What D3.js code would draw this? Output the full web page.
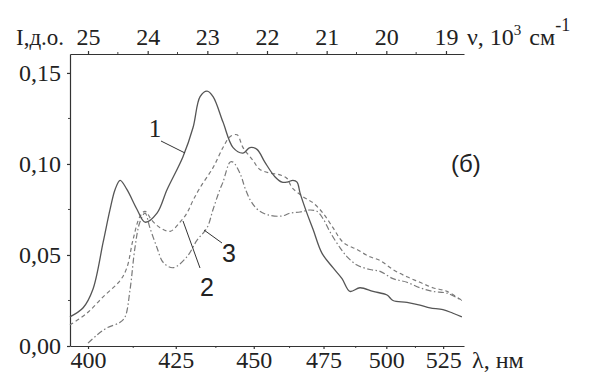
<!DOCTYPE html>
<html>
<head>
<meta charset="utf-8">
<script src="https://cdn.jsdelivr.net/npm/d3@7"></script>
<style>
  body { margin: 0; background: #fff; }
  svg text { fill: #222; }
  .axis path, .axis line { stroke: #333; stroke-width: 1.2; }
</style>
</head>
<body>
<svg id="chart" width="591" height="373"></svg>
<script>
// Luminescence spectra, (б)

// curve 1 (solid)
var lambda1 = [395.2, 398.7, 401.3, 404.1, 406.0, 407.4, 408.8, 410.7, 413.6, 415.9, 419.4, 422.4, 427.2,
  430.3, 432.5, 434.7, 436.6, 439.8, 443.1, 446.4, 448.7, 451.1, 453.8, 457.3, 459.8, 461.6, 463.7, 465.2,
  466.3, 468.8, 471.1, 474.4, 478.6, 482.1, 485.2, 489.2, 494.5, 500.3, 502.8, 508.8, 514.5, 519.0, 524.9,
  529.6, 533.8];
var int1 = [0.016, 0.021, 0.031, 0.057, 0.075, 0.086, 0.091, 0.086, 0.075, 0.068, 0.073, 0.086, 0.104,
  0.120, 0.137, 0.140, 0.137, 0.123, 0.109, 0.106, 0.109, 0.108, 0.101, 0.093, 0.090, 0.090, 0.091, 0.090,
  0.084, 0.073, 0.064, 0.051, 0.043, 0.037, 0.030, 0.032, 0.030, 0.028, 0.025, 0.024, 0.0225, 0.021, 0.020,
  0.018, 0.016];

// curve 2 (dashed)
var lambda2 = [395.2, 399.7, 404.1, 408.8, 410.7, 412.4, 414.4, 415.9, 417.9, 420.3, 423.3, 426.3, 428.4,
  430.3, 432.5, 436.6, 439.8, 442.1, 444.4, 446.4, 449.7, 452.1, 455.6, 459.1, 461.6, 463.4, 467.4, 471.1,
  474.8, 478.6, 482.5, 488.0, 493.2, 497.4, 502.8, 508.8, 514.5, 520.3, 526.8, 533.8];
var int2 = [0.0115, 0.018, 0.027, 0.036, 0.043, 0.058, 0.071, 0.074, 0.069, 0.065, 0.063, 0.068, 0.073,
  0.080, 0.087, 0.098, 0.109, 0.115, 0.116, 0.109, 0.102, 0.097, 0.095, 0.094, 0.092, 0.087, 0.082, 0.0786,
  0.073, 0.065, 0.057, 0.053, 0.049, 0.047, 0.042, 0.038, 0.035, 0.032, 0.030, 0.025];

// curve 3 (dash-dot)
var lambda3 = [400.0, 402.4, 405.2, 408.8, 410.2, 411.6, 413.0, 414.4, 415.9, 417.3, 419.4, 421.2, 424.2,
  428.4, 431.5, 434.7, 436.6, 438.8, 439.8, 442.1, 443.1, 445.6, 447.0, 448.9, 451.3, 454.9, 459.8, 462.7,
  466.3, 469.9, 472.5, 474.8, 477.5, 481.3, 484.1, 488.0, 493.2, 497.4, 502.8, 508.8, 514.5, 520.3, 526.8,
  533.8];
var int3 = [0.0016, 0.006, 0.010, 0.013, 0.016, 0.031, 0.054, 0.068, 0.073, 0.065, 0.054, 0.046, 0.043,
  0.049, 0.058, 0.065, 0.075, 0.086, 0.090, 0.101, 0.101, 0.094, 0.087, 0.080, 0.075, 0.072, 0.0714, 0.073,
  0.0736, 0.0747, 0.074, 0.070, 0.0626, 0.054, 0.049, 0.0445, 0.042, 0.041, 0.037, 0.035, 0.032, 0.030,
  0.029, 0.025];

var lambdaTicks = [400, 425, 450, 475, 500, 525];
var lambdaMinor = [412.5, 437.5, 462.5, 487.5, 512.5];
var nuTicks = [25, 24, 23, 22, 21, 20, 19];
var nuMinor = [24.5, 23.5, 22.5, 21.5, 20.5, 19.5];
var yTicks = [0, 0.05, 0.10, 0.15];
var yMinor = [0.025, 0.075, 0.125];

var svg = d3.select("#chart");
var serif = "Liberation Serif, Tinos, DejaVu Serif, Noto Serif, serif";
var sans = "Liberation Sans, Arial, sans-serif";

// x is linear in wavenumber (cm-1), bottom axis labelled in nm
var x = d3.scaleLinear().domain([25302, 18698]).range([70, 464]);
var y = d3.scaleLinear().domain([0, 0.1604]).range([346, 54]);

function nu(l) { return 1e7 / l; }
var fmt = function (v) { return d3.format(".2f")(v).replace(".", ","); };

// minor ticks first
var minor = svg.append("g").attr("stroke", "#444").attr("stroke-width", 1);
minor.selectAll(".mb").data(lambdaMinor).enter().append("line")
  .attr("x1", function (d) { return x(nu(d)); }).attr("x2", function (d) { return x(nu(d)); })
  .attr("y1", 346).attr("y2", 348);
minor.selectAll(".mt").data(nuMinor).enter().append("line")
  .attr("x1", function (d) { return x(d * 1000); }).attr("x2", function (d) { return x(d * 1000); })
  .attr("y1", 54).attr("y2", 52);
minor.selectAll(".ml").data(yMinor).enter().append("line")
  .attr("x1", 70).attr("x2", 68)
  .attr("y1", function (d) { return y(d); }).attr("y2", function (d) { return y(d); });

// bottom axis (λ, nm)
var gb = svg.append("g").attr("class", "axis").attr("transform", "translate(0,346)")
  .call(d3.axisBottom(x)
    .tickValues(lambdaTicks.map(nu))
    .tickFormat(function (d) { return Math.round(1e7 / d); })
    .tickSizeInner(3).tickSizeOuter(0).tickPadding(3));
gb.attr("font-family", serif).attr("font-size", 24);
gb.selectAll("text").attr("y", 22).attr("dy", null);

// top axis (ν, 10^3 cm-1)
var gt = svg.append("g").attr("class", "axis").attr("transform", "translate(0,54)")
  .call(d3.axisTop(x)
    .tickValues(nuTicks.map(function (d) { return d * 1000; }))
    .tickFormat(function (d) { return d / 1000; })
    .tickSizeInner(3).tickSizeOuter(0).tickPadding(5));
gt.attr("font-family", serif).attr("font-size", 24);
gt.selectAll("text").attr("y", -9).attr("dy", null);

// left axis
var gl = svg.append("g").attr("class", "axis").attr("transform", "translate(70,0)")
  .call(d3.axisLeft(y).tickValues(yTicks).tickFormat(fmt)
    .tickSizeInner(3).tickSizeOuter(0).tickPadding(6));
gl.attr("font-family", serif).attr("font-size", 24);

// curves
var line = d3.line()
  .x(function (d) { return x(nu(d[0])); })
  .y(function (d) { return y(d[1]); })
  .curve(d3.curveCatmullRom.alpha(0.5));

svg.append("path").datum(d3.zip(lambda3, int3))
  .attr("d", line).attr("fill", "none").attr("stroke", "#7a7a7a")
  .attr("stroke-width", 1.2).attr("stroke-dasharray", "6,2.5,1.5,2.5");
svg.append("path").datum(d3.zip(lambda2, int2))
  .attr("d", line).attr("fill", "none").attr("stroke", "#7a7a7a")
  .attr("stroke-width", 1.2).attr("stroke-dasharray", "4,3");
svg.append("path").datum(d3.zip(lambda1, int1))
  .attr("d", line).attr("fill", "none").attr("stroke", "#555")
  .attr("stroke-width", 1.3);

// axis titles
var titles = svg.append("g").attr("font-family", serif).attr("font-size", 23);
titles.append("text").attr("x", 16).attr("y", 45).text("I,д.о.");
var nuTitle = titles.append("text").attr("x", 467).attr("y", 45).attr("font-size", 24);
nuTitle.append("tspan").text("ν, 10");
nuTitle.append("tspan").attr("font-size", 15).attr("dy", -10).text("3");
nuTitle.append("tspan").attr("dy", 10).attr("dx", 2).text(" см");
nuTitle.append("tspan").attr("font-size", 18).attr("dy", -14).text("-1");
titles.append("text").attr("x", 472).attr("y", 368).attr("font-size", 24).text("λ, нм");

// panel mark
svg.append("text").attr("x", 451).attr("y", 172).attr("font-size", 24)
  .attr("font-family", sans).text("(б)");

// curve labels with leaders
var labels = [
  { t: "1", tx: 155, ty: 137, x1: 161, y1: 141, x2: 185, y2: 153 },
  { t: "2", tx: 207, ty: 296, x1: 200, y1: 268, x2: 183, y2: 221 },
  { t: "3", tx: 229, ty: 262, x1: 222, y1: 243, x2: 204, y2: 230 }
];
svg.selectAll(".lead").data(labels).enter().append("line")
  .attr("x1", function (d) { return d.x1; }).attr("y1", function (d) { return d.y1; })
  .attr("x2", function (d) { return d.x2; }).attr("y2", function (d) { return d.y2; })
  .attr("stroke", "#333").attr("stroke-width", 1);
svg.selectAll(".lab").data(labels).enter().append("text")
  .attr("x", function (d) { return d.tx; }).attr("y", function (d) { return d.ty; })
  .attr("text-anchor", "middle").attr("font-size", 25)
  .attr("font-family", function (d) { return d.t === "1" ? serif : sans; })
  .text(function (d) { return d.t; });
</script>
</body>
</html>
